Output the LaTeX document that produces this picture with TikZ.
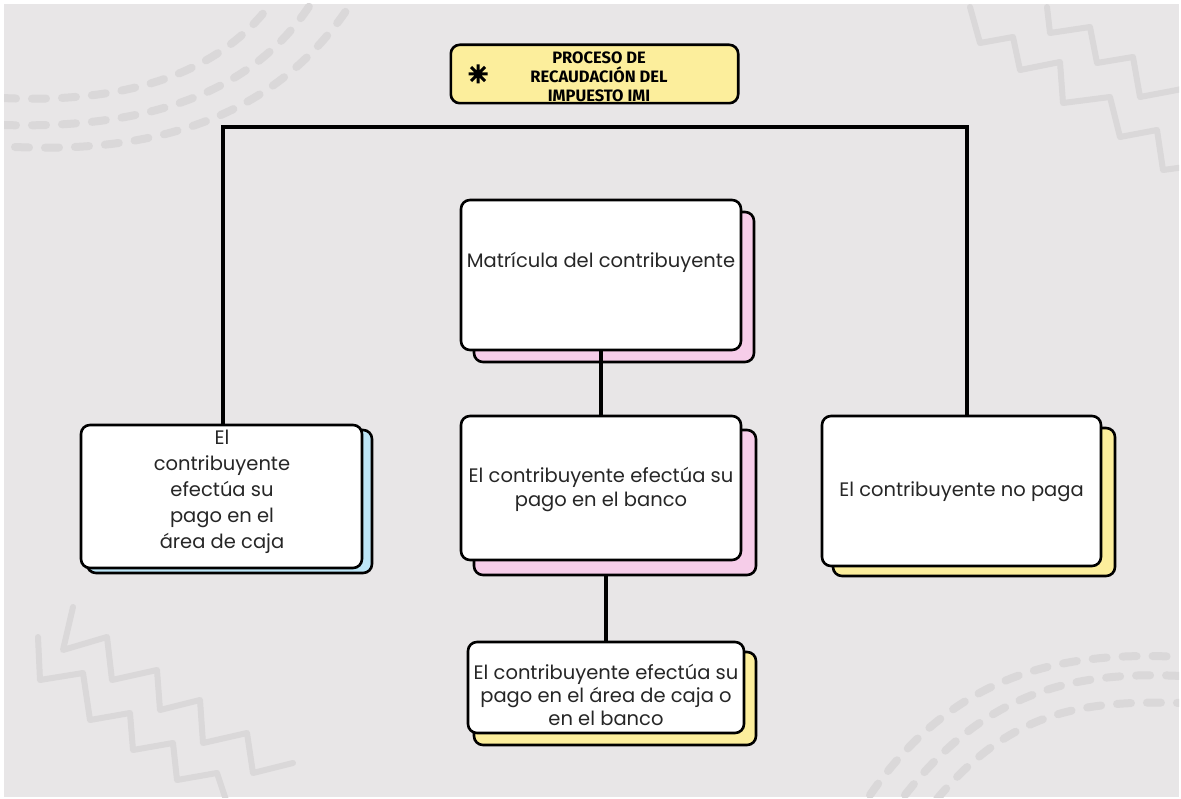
\documentclass[tikz,border=0pt]{standalone}
\usepackage{fontspec}
\setmainfont{Poppins}
\newfontfamily\titlefont{Fira Sans}
\definecolor{bggray}{HTML}{E8E6E7}
\definecolor{decogray}{HTML}{DAD8D9}
\definecolor{pinkS}{HTML}{F6CDE9}
\definecolor{yellowS}{HTML}{FCEE9C}
\definecolor{blueS}{HTML}{BDE6F7}
\definecolor{titleY}{HTML}{FCEE9C}
\begin{document}
\begin{tikzpicture}[x=1pt,y=-1pt,
  box/.style={draw=black, line width=2.6pt, rounded corners=9pt, fill=white, inner sep=0pt, align=center},
  shadowbox/.style={draw=black, line width=2.6pt, rounded corners=9pt, inner sep=0pt},
  txt/.style={align=center, inner sep=0pt, font=\fontsize{19.5}{24}\selectfont, text=black!85},
  conn/.style={line width=3.6pt, draw=black},
  deco/.style={draw=decogray, line width=8pt, line cap=round, dash pattern=on 14pt off 16pt},
  zig/.style={draw=decogray, line width=6pt, line join=round, line cap=round}]
% canvas
\fill[white] (0,0) rectangle (1181,799);
\fill[bggray] (4,4) rectangle (1179,797);
\useasboundingbox (0,0) rectangle (1181,799);
% decorations
\begin{scope}
\clip (4,4) rectangle (1179,797);
\draw[deco] (2,98) .. controls (150,105) and (230,60) .. (272,2);
\draw[deco] (2,125) .. controls (170,130) and (262,80) .. (312,2);
\draw[deco] (15,147) .. controls (190,155) and (292,95) .. (352,2);
\draw[deco] (870,795) .. controls (950,680) and (1050,650) .. (1181,657);
\draw[deco] (905,795) .. controls (980,700) and (1060,670) .. (1181,676);
\draw[deco] (937,799) .. controls (1010,712) and (1080,700) .. (1181,703);
\draw[zig] (970,7) -- (980,43) -- (1013,37) -- (1020,70) -- (1060,62) -- (1063,103) -- (1110,97) -- (1120,137) -- (1157,130) -- (1163,170) -- (1185,167);
\draw[zig] (1047,7) -- (1050,33) -- (1090,27) -- (1097,63) -- (1133,57) -- (1140,97) -- (1177,90) -- (1185,88);
\draw[zig] (73,607) -- (63,650) -- (107,637) -- (112,680) -- (157,670) -- (160,710) -- (200,700) -- (203,743) -- (247,733) -- (253,773) -- (293,763);
\draw[zig] (38,637) -- (40,680) -- (83,673) -- (90,720) -- (130,713) -- (133,750) -- (173,743) -- (177,780) -- (217,773) -- (227,803);
\end{scope}
% title
\node[draw=none, fill=titleY, rounded corners=9pt, minimum width=287pt, minimum height=58pt, inner sep=0pt] (title) at (594.5,74) {};
\node[align=center, inner sep=0pt, font=\titlefont\bfseries\fontsize{16.5}{19}\selectfont] (titletext) at (599,77) {PROCESO DE\\RECAUDACIÓN DEL\\IMPUESTO IMI};
\draw[line width=2.6pt, rounded corners=9pt] (title.south west) rectangle (title.north east);
\coordinate (ast) at (478,74);
\draw[line width=3pt] ([shift={(-9.5,0)}]ast) -- ([shift={(9.5,0)}]ast)
  ([shift={(0,-9.5)}]ast) -- ([shift={(0,9.5)}]ast)
  ([shift={(-7,-7)}]ast) -- ([shift={(7,7)}]ast)
  ([shift={(-7,7)}]ast) -- ([shift={(7,-7)}]ast);
% boxes
\node[shadowbox, fill=pinkS, minimum width=280pt, minimum height=150pt] (m1s) at (614,287) {};
\node[box, minimum width=280pt, minimum height=150pt] (m1) at (601,275) {};
\node[txt] (m1t) at (601,262) {Matrícula del contribuyente};

\node[shadowbox, fill=pinkS, minimum width=282pt, minimum height=145pt] (m2s) at (615,502.5) {};
\node[box, minimum width=280pt, minimum height=144pt] (m2) at (601,488) {};
\node[txt] (m2t) at (601,490) {El contribuyente efectúa su\\pago en el banco};

\node[shadowbox, fill=yellowS, minimum width=282pt, minimum height=93pt] (m3s) at (615,698.5) {};
\node[box, minimum width=276pt, minimum height=91pt] (m3) at (606,687.5) {};
\node[txt, font=\fontsize{19.5}{23}\selectfont] (m3t) at (606,695) {El contribuyente efectúa su\\pago en el área de caja o\\en el banco};

\node[shadowbox, fill=blueS, minimum width=285pt, minimum height=143pt] (lbs) at (229.5,501.5) {};
\node[box, minimum width=281pt, minimum height=143pt] (lb) at (221.5,496.5) {};
\node[txt, font=\fontsize{19.5}{26}\selectfont] (lbt) at (222,492) {El\\contribuyente\\efectúa su\\pago en el\\área de caja};

\node[shadowbox, fill=yellowS, minimum width=282pt, minimum height=148pt] (rbs) at (974,502) {};
\node[box, minimum width=279pt, minimum height=150pt] (rb) at (961.5,491) {};
\node[txt] (rbt) at (961.5,492) {El contribuyente no paga};

% connectors
\coordinate (topbar) at (600,127);
\draw[conn, line join=miter] (lb.north -| 223,0) |- (topbar) -| ([xshift=5.5pt]rb.north);
\draw[conn] (m1.south) -- (m2.north);
\draw[conn] (m2s.south -| m3.north) -- (m3.north);
\end{tikzpicture}
\end{document}
